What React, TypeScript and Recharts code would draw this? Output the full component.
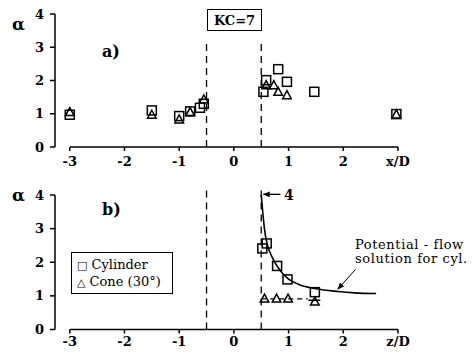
import React from 'react';
import { ComposedChart, Scatter, Line, XAxis, YAxis, ReferenceLine } from 'recharts';

// Panel a) (x/D)
const cylA = [
  { x: -3, y: 0.97 }, { x: -1.5, y: 1.1 }, { x: -1, y: 0.93 }, { x: -0.8, y: 1.07 },
  { x: -0.62, y: 1.18 }, { x: -0.55, y: 1.3 }, { x: 0.54, y: 1.66 }, { x: 0.59, y: 2.01 },
  { x: 0.81, y: 2.34 }, { x: 0.97, y: 1.96 }, { x: 1.47, y: 1.66 }, { x: 2.97, y: 0.99 },
];
const coneA = [
  { x: -3, y: 1.05 }, { x: -1.5, y: 0.97 }, { x: -1, y: 0.83 }, { x: -0.8, y: 1.05 },
  { x: -0.55, y: 1.43 }, { x: 0.59, y: 1.86 }, { x: 0.73, y: 1.86 }, { x: 0.81, y: 1.66 },
  { x: 0.97, y: 1.56 }, { x: 2.97, y: 0.98 },
];
// Panel b) (z/D)
const cylB = [
  { x: 0.52, y: 2.41 }, { x: 0.6, y: 2.56 }, { x: 0.79, y: 1.89 }, { x: 0.98, y: 1.49 }, { x: 1.48, y: 1.11 },
];
const coneB = [
  { x: 0.56, y: 0.92 }, { x: 0.78, y: 0.92 }, { x: 0.99, y: 0.92 }, { x: 1.48, y: 0.83 },
];
// Potential-flow curve
const potentialFlow = [
  { x: 0.5, y: 4.0 }, { x: 0.53, y: 3.45 }, { x: 0.56, y: 2.98 }, { x: 0.6, y: 2.6 },
  { x: 0.7, y: 2.15 }, { x: 0.8, y: 1.86 }, { x: 0.9, y: 1.65 }, { x: 1.0, y: 1.5 },
  { x: 1.2, y: 1.33 }, { x: 1.5, y: 1.21 }, { x: 1.9, y: 1.13 }, { x: 2.2, y: 1.09 }, { x: 2.6, y: 1.07 },
];

const xTicks = [-3, -2, -1, 0, 1, 2, 3];
const yTicks = [0, 1, 2, 3, 4];
const X_DOMAIN: [number, number] = [-3.27, 3];

const FONT = '"DejaVu Serif", serif';
const tickStyle = { fontFamily: FONT, fontWeight: 700, fontSize: 13, fill: '#000' };

const SquareMark = (p: any) => (
  <rect x={p.cx - 4.5} y={p.cy - 4.5} width={9} height={9} fill="none" stroke="#000" strokeWidth={1.5} />
);
const TriMark = (p: any) => (
  <path d={`M${p.cx},${p.cy - 4.5} L${p.cx + 4.3},${p.cy + 3.5} L${p.cx - 4.3},${p.cy + 3.5} Z`} fill="none" stroke="#000" strokeWidth={1.5} strokeLinejoin="miter" />
);

const txt = (left: number, top: number, s: string, extra: React.CSSProperties = {}) => (
  <div style={{ position: 'absolute', left, top, fontFamily: FONT, color: '#000', whiteSpace: 'nowrap', lineHeight: 1, ...extra }}>{s}</div>
);

function Panel({ cyl, cone, label, top, height, mTop, xAxisH, tickMargin, curve }: any) {
  return (
    <div style={{ position: 'absolute', left: 0, top }}>
      <ComposedChart width={474} height={height} margin={{ top: mTop, right: 76, left: 0, bottom: 0 }}>
        <XAxis type="number" dataKey="x" domain={X_DOMAIN} ticks={xTicks} axisLine={false}
          tickSize={4} tickMargin={tickMargin} height={xAxisH} tick={tickStyle}
          tickLine={{ stroke: '#000', strokeWidth: 1.5 }}
          tickFormatter={(v: number) => (v === 3 ? label : String(v))} />
        <YAxis type="number" dataKey="y" domain={[0, 4]} ticks={yTicks} width={55}
          tickSize={5} tickMargin={6} tick={tickStyle}
          axisLine={{ stroke: '#000', strokeWidth: 1.5 }} tickLine={{ stroke: '#000', strokeWidth: 1.5 }} />
        <ReferenceLine segment={[{ x: -3, y: 0 }, { x: 3, y: 0 }]} stroke="#000" strokeWidth={1.5} ifOverflow="visible" />
        <ReferenceLine segment={[{ x: -0.5, y: 0 }, { x: -0.5, y: curve ? 4.2 : 3.15 }]} stroke="#000" strokeWidth={1.3} strokeDasharray="7 5" ifOverflow="visible" />
        <ReferenceLine segment={[{ x: 0.5, y: 0 }, { x: 0.5, y: curve ? 4.15 : 3.15 }]} stroke="#000" strokeWidth={1.3} strokeDasharray="7 5" ifOverflow="visible" />
        {curve && (
          <>
            <ReferenceLine segment={[{ x: 0.5, y: 0.91 }, { x: 1.35, y: 0.91 }]} stroke="#000" strokeWidth={1.3} strokeDasharray="5 4" ifOverflow="visible" />
            <ReferenceLine segment={[{ x: 1.36, y: 0.87 }, { x: 1.58, y: 0.87 }]} stroke="#000" strokeWidth={1.5} ifOverflow="visible" />
            <ReferenceLine segment={[{ x: 0.85, y: 4.02 }, { x: 0.54, y: 4.02 }]} stroke="#000" strokeWidth={1.3} ifOverflow="visible" markerEnd="url(#arrowHead)" />
            <ReferenceLine segment={[{ x: 2.22, y: 1.78 }, { x: 1.9, y: 1.2 }]} stroke="#000" strokeWidth={1} ifOverflow="visible" markerEnd="url(#arrowHead)" />
            <Line data={curve} dataKey="y" type="monotone" stroke="#000" strokeWidth={1.6} dot={false} isAnimationActive={false} />
          </>
        )}
        <Scatter data={cyl} shape={SquareMark} isAnimationActive={false} />
        <Scatter data={cone} shape={TriMark} isAnimationActive={false} />
      </ComposedChart>
    </div>
  );
}

export default function App() {
  return (
    <div style={{ position: 'absolute', left: 0, top: 0, width: 474, height: 354, background: '#fff', overflow: 'hidden' }}>
      <svg width={0} height={0} style={{ position: 'absolute' }}>
        <defs>
          <marker id="arrowHead" viewBox="0 0 10 10" refX="9" refY="5" markerWidth="7" markerHeight="7" orient="auto-start-reverse" markerUnits="userSpaceOnUse">
            <path d="M0,1 L10,5 L0,9 z" fill="#000" />
          </marker>
        </defs>
      </svg>
      <Panel cyl={cylA} cone={coneA} label="x/D" top={0} height={177} mTop={14} xAxisH={30} tickMargin={6} />
      <Panel cyl={cylB} cone={coneB} label="z/D" top={177} height={177} mTop={18} xAxisH={24.5} tickMargin={3} curve={potentialFlow} />

      {txt(12, 16, 'α', { fontSize: 17, fontWeight: 700 })}
      {txt(12, 187, 'α', { fontSize: 17, fontWeight: 700 })}
      {txt(102, 44, 'a)', { fontSize: 16, fontWeight: 700 })}
      {txt(102, 202, 'b)', { fontSize: 16, fontWeight: 700 })}
      <div style={{ position: 'absolute', left: 207, top: 9, width: 55, height: 22, border: '1px solid #000', boxSizing: 'border-box',
        display: 'flex', alignItems: 'center', justifyContent: 'center', fontFamily: FONT, fontWeight: 700, fontSize: 13 }}>KC=7</div>
      {txt(284, 188, '4', { fontSize: 14, fontWeight: 700 })}
      <div style={{ position: 'absolute', left: 71, top: 252, width: 102, height: 42, border: '1px solid #000', boxSizing: 'border-box',
        fontFamily: FONT, fontSize: 13, padding: '4px 0 0 5px', lineHeight: '16px' }}>
        <div><span style={{ fontFamily: '"DejaVu Sans"', fontSize: 11 }}>□</span> Cylinder</div>
        <div><span style={{ fontFamily: '"DejaVu Sans"', fontSize: 11 }}>△</span> Cone (30°)</div>
      </div>
      {txt(355, 238, 'Potential - flow', { fontSize: 13, letterSpacing: 0.6 })}
      {txt(355, 252, 'solution for cyl.', { fontSize: 13, letterSpacing: 0.6 })}
    </div>
  );
}
